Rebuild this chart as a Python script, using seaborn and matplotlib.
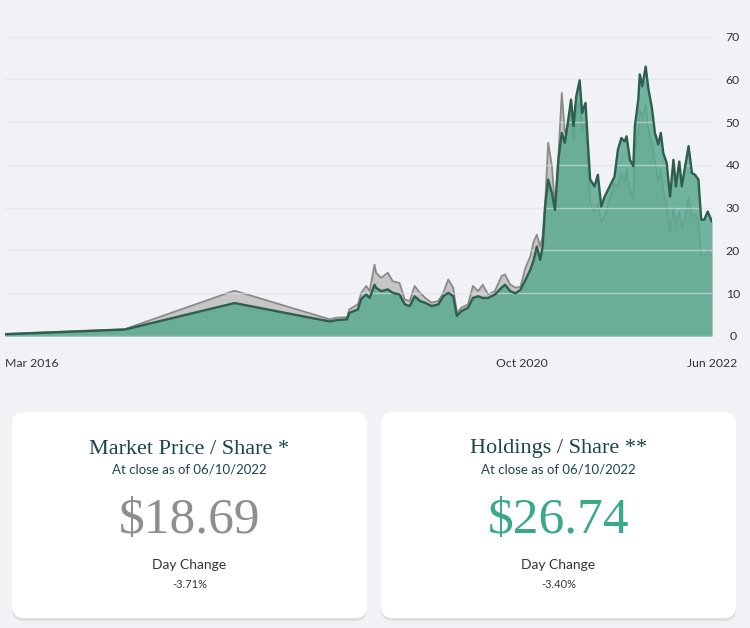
import numpy as np
import pandas as pd
import matplotlib
matplotlib.use("Agg")
import matplotlib.pyplot as plt
import seaborn as sns
from matplotlib.patches import FancyBboxPatch


dates = [
    "2016-03-01", "2017-03-24", "2018-03-15", "2019-01-18",
    "2019-02-09", "2019-03-15", "2019-03-22", "2019-04-19", "2019-04-30", "2019-05-16", "2019-05-27",
    "2019-06-12", "2019-06-17", "2019-07-03", "2019-07-25", "2019-08-10", "2019-09-01", "2019-09-18",
    "2019-10-04", "2019-10-20", "2019-11-06", "2019-11-22", "2019-12-14", "2020-01-05", "2020-01-21",
    "2020-02-06", "2020-02-22", "2020-03-05", "2020-03-19", "2020-04-10", "2020-04-26", "2020-05-13",
    "2020-05-28", "2020-06-14", "2020-07-06", "2020-07-28", "2020-08-08", "2020-08-25", "2020-09-11",
    "2020-09-27", "2020-10-13", "2020-10-29", "2020-11-09", "2020-11-19", "2020-11-30", "2020-12-08",
    "2020-12-16", "2020-12-26", "2021-01-07", "2021-01-17", "2021-01-28", "2021-02-08", "2021-02-18",
    "2021-03-01", "2021-03-10", "2021-03-18", "2021-03-27", "2021-04-07", "2021-04-15", "2021-04-26",
    "2021-05-03", "2021-05-11", "2021-05-25", "2021-06-05", "2021-06-16", "2021-06-27", "2021-07-29",
    "2021-08-09", "2021-08-20", "2021-08-31", "2021-09-06", "2021-09-17", "2021-09-28", "2021-10-03",
    "2021-10-14", "2021-10-19", "2021-10-27", "2021-11-07", "2021-11-16", "2021-11-27", "2021-12-07",
    "2021-12-18", "2021-12-26", "2022-01-03", "2022-01-14", "2022-01-25", "2022-02-05", "2022-02-13",
    "2022-02-24", "2022-03-04", "2022-03-15", "2022-03-26", "2022-04-06", "2022-04-16", "2022-04-27",
    "2022-05-06", "2022-05-16", "2022-05-27", "2022-06-10",
]

market_price = [
    0.5, 1.6, 10.6, 3.9,
    4.3, 4.4, 6.2, 7.4, 10.1, 11.7, 10.5,
    16.7, 14.8, 13.6, 14.8, 12.8, 12.4, 8.5,
    8.2, 11.7, 10.1, 9.0, 7.8, 8.2, 10.1,
    13.2, 11.3, 5.4, 6.6, 7.4, 11.7, 10.5,
    12.0, 9.7, 10.5, 14.0, 14.4, 12.0, 11.3,
    11.5, 15.9, 18.6, 22.1, 23.7, 20.9, 23.4,
    31.1, 45.2, 39.7, 30.3, 42.0, 56.9, 47.5,
    49.5, 53.0, 46.0, 52.0, 55.0, 48.0, 50.0,
    40.0, 31.0, 29.0, 31.0, 26.5, 28.0, 35.8,
    35.0, 38.0, 36.0, 39.0, 34.0, 32.0, 43.0,
    48.0, 53.0, 51.0, 54.0, 48.0, 45.0, 41.0,
    36.0, 39.0, 34.0, 31.0, 24.5, 30.0, 26.0,
    29.0, 25.0, 28.0, 32.5, 28.0, 28.5, 27.0,
    19.0, 18.5, 20.0, 18.69,
]

holdings = [
    0.4, 1.5, 7.7, 3.4,
    3.7, 3.9, 5.4, 6.2, 8.7, 9.7, 8.9,
    12.0, 11.3, 10.5, 10.9, 10.1, 9.7, 7.4,
    7.0, 9.3, 8.2, 7.8, 7.0, 7.4, 9.3,
    10.1, 9.3, 4.7, 5.8, 6.6, 8.9, 9.3,
    8.9, 8.9, 9.7, 11.3, 12.0, 10.5, 10.0,
    10.8, 13.1, 15.5, 17.8, 20.9, 17.8, 20.9,
    30.3, 36.6, 33.4, 29.5, 41.2, 47.5, 45.2,
    50.6, 55.3, 49.1, 56.1, 59.8, 52.2, 54.5,
    45.9, 36.6, 35.0, 37.7, 30.3, 32.6, 37.3,
    43.6, 46.3, 45.5, 46.7, 41.2, 39.7, 49.1,
    55.3, 61.2, 58.4, 63.0, 57.7, 53.4, 47.5,
    44.8, 47.5, 42.8, 40.5, 32.6, 41.2, 35.0,
    40.8, 35.0, 39.7, 44.4, 38.1, 37.7, 36.6,
    27.2, 27.2, 29.1, 26.74,
]

x_tick_dates = ["2016-03-01", "2020-10-01", "2022-06-10"]
x_tick_labels = ["Mar 2016", "Oct 2020", "Jun 2022"]
y_ticks = [0, 10, 20, 30, 40, 50, 60, 70]

card_titles = ["Market Price / Share *", "Holdings / Share **"]
card_subtitle = "At close as of 06/10/2022"
card_prices = ["$18.69", "$26.74"]
card_changes = ["-3.71%", "-3.40%"]

BG = "#f1f2f5"
GREEN_FILL = "#5aaa90"
GREEN_LINE = "#2d5e4e"
GRAY_FILL = "#c6c6c6"
GRAY_LINE = "#8a8a8a"
TEAL_TEXT = "#1a464c"

sns.set_theme(style="white")
plt.rcParams["font.family"] = ["Lato", "DejaVu Sans"]

df = pd.DataFrame({
    "date": pd.to_datetime(dates),
    "market": market_price,
    "holdings": holdings,
})

fig = plt.figure(figsize=(7.5, 6.28), dpi=100)
fig.patch.set_facecolor(BG)

# pixel-space canvas for the cards
bg_ax = fig.add_axes([0, 0, 1, 1], zorder=0)
bg_ax.set_xlim(0, 750)
bg_ax.set_ylim(628, 0)
bg_ax.axis("off")

ax = fig.add_axes([5 / 750, 1 - 336 / 628, 707 / 750, (336 - 36.7) / 628], zorder=1)
ax.set_facecolor("none")

ax.fill_between(df["date"], df["market"], color=GRAY_FILL, lw=0, zorder=1)
sns.lineplot(data=df, x="date", y="market", ax=ax, color=GRAY_LINE, lw=1.3, zorder=1.2)
ax.fill_between(df["date"], df["holdings"], color=GREEN_FILL, alpha=0.85, lw=0, zorder=1.4)
sns.lineplot(data=df, x="date", y="holdings", ax=ax, color=GREEN_LINE, lw=1.7, zorder=2)

ax.set_xlim(df["date"].iloc[0], df["date"].iloc[-1])
ax.set_ylim(0, 70)
ax.set_xlabel("")
ax.set_ylabel("")
sns.despine(ax=ax, left=True, bottom=True, right=True, top=True)

ax.set_axisbelow("line")
ax.grid(axis="y", color="#dfe2e6", alpha=0.6, lw=1)
ax.grid(axis="x", visible=False)

ax.yaxis.tick_right()
ax.set_yticks(y_ticks)
ax.set_yticklabels([str(t) for t in y_ticks])
ax.tick_params(axis="y", length=0, pad=15, labelsize=8.8, labelcolor="#333333")
for lbl in ax.get_yticklabels():
    lbl.set_ha("center")

ax.set_xticks(pd.to_datetime(x_tick_dates))
ax.set_xticklabels(x_tick_labels)
ax.tick_params(axis="x", length=0, pad=15.5, labelsize=8.8, labelcolor="#333333")
ax.get_xticklabels()[0].set_ha("left")

# cards
cards_x = [12, 381]
card_w, card_h, card_y, r = 355, 206, 412, 12
price_colors = ["#8e8e8e", "#3ba88b"]
for i, x0 in enumerate(cards_x):
    shadow = FancyBboxPatch((x0 + r, card_y + r + 3), card_w - 2 * r, card_h - 2 * r,
                            boxstyle=f"round,pad={r}", fc="#d6d8dd", ec="none", alpha=0.7)
    bg_ax.add_patch(shadow)
    card = FancyBboxPatch((x0 + r, card_y + r), card_w - 2 * r, card_h - 2 * r,
                          boxstyle=f"round,pad={r}", fc="white", ec="none")
    bg_ax.add_patch(card)
    cx = x0 + card_w / 2
    bg_ax.text(cx, 449, card_titles[i], ha="center", va="center", fontsize=16,
               family=["Liberation Serif", "DejaVu Serif"], color=TEAL_TEXT)
    bg_ax.text(cx, 469, card_subtitle, ha="center", va="center", fontsize=9.5, color=TEAL_TEXT)
    bg_ax.text(cx, 521, card_prices[i], ha="center", va="center", fontsize=37,
               family=["Liberation Serif", "DejaVu Serif"], color=price_colors[i])
    bg_ax.text(cx, 565, "Day Change", ha="center", va="center", fontsize=10, color="#333333")
    bg_ax.text(cx, 584, card_changes[i], ha="center", va="center", fontsize=8, color="#333333")

fig.savefig("out.png", dpi=100, facecolor=BG)
